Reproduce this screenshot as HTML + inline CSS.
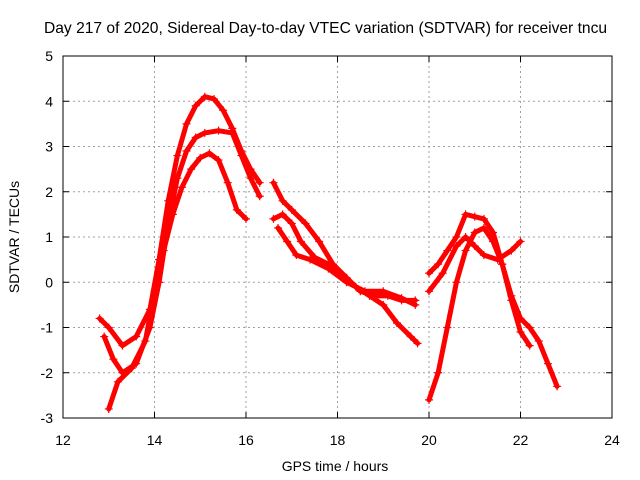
<!DOCTYPE html>
<html><head><meta charset="utf-8"><style>
body{margin:0;background:#fff}
svg{display:block;font-family:"Liberation Sans",sans-serif}
</style></head><body>
<svg id="chart" width="640" height="480" viewBox="0 0 640 480">
<text x="44" y="33" text-anchor="start" font-size="15.6">Day 217 of 2020, Sidereal Day-to-day VTEC variation (SDTVAR) for receiver tncu</text>
<g id="grid"></g>
<g id="series"></g>
<rect x="63" y="56" width="549" height="362" fill="none" stroke="#000" stroke-width="1"/>
<g id="ticks"></g>
<text x="335" y="471" text-anchor="middle" font-size="14">GPS time / hours</text>
<text transform="translate(19,237) rotate(-90)" text-anchor="middle" font-size="14">SDTVAR / TECUs</text>
</svg>
<script>
const xTicks=[12,14,16,18,20,22,24];
const yTicks=[-3,-2,-1,0,1,2,3,4,5];
const trackA_x=[12.8,13.0,13.3,13.6,13.9,14.1,14.3,14.5,14.7,14.9,15.1,15.3,15.5,15.7,15.9,16.1,16.3];
const trackA_y=[-0.8,-1.0,-1.4,-1.2,-0.6,0.5,1.8,2.8,3.5,3.9,4.1,4.05,3.8,3.4,2.9,2.5,2.2];
const trackB_x=[12.9,13.1,13.3,13.6,13.9,14.1,14.3,14.5,14.7,14.9,15.1,15.4,15.7,15.9,16.1,16.3];
const trackB_y=[-1.2,-1.7,-2.0,-1.8,-1.0,0.0,1.3,2.3,2.9,3.2,3.3,3.35,3.3,2.8,2.3,1.9];
const trackC_x=[13.0,13.2,13.5,13.8,14.0,14.2,14.4,14.6,14.8,15.0,15.2,15.4,15.6,15.8,16.0];
const trackC_y=[-2.8,-2.2,-1.9,-1.3,-0.2,0.7,1.5,2.1,2.5,2.75,2.85,2.7,2.2,1.6,1.4];
const trackD_x=[16.6,16.8,17.0,17.3,17.6,17.9,18.2,18.5,18.8,19.1,19.4,19.7];
const trackD_y=[2.2,1.8,1.6,1.3,0.9,0.4,0.1,-0.2,-0.3,-0.3,-0.4,-0.4];
const trackE_x=[16.6,16.8,17.0,17.2,17.5,17.8,18.1,18.4,18.7,19.0,19.3,19.6,19.75];
const trackE_y=[1.4,1.5,1.3,0.9,0.55,0.4,0.1,-0.1,-0.3,-0.5,-0.9,-1.2,-1.35];
const trackF_x=[16.7,16.9,17.1,17.4,17.8,18.2,18.6,19.0,19.4,19.7];
const trackF_y=[1.2,0.9,0.6,0.5,0.3,0.0,-0.2,-0.2,-0.35,-0.5];
const trackG_x=[20.0,20.2,20.4,20.6,20.8,21.0,21.2,21.4,21.6,21.8,22.0,22.2,22.4,22.6,22.8];
const trackG_y=[-2.6,-2.0,-1.0,0.0,0.7,1.1,1.2,0.9,0.4,-0.3,-0.8,-1.0,-1.3,-1.8,-2.3];
const trackH_x=[20.0,20.2,20.4,20.6,20.8,21.0,21.2,21.4,21.6,21.8,22.0,22.2];
const trackH_y=[0.2,0.4,0.7,1.0,1.5,1.45,1.4,1.1,0.4,-0.4,-1.1,-1.4];
const trackI_x=[20.0,20.3,20.6,20.8,21.0,21.2,21.5,21.8,22.0];
const trackI_y=[-0.2,0.2,0.8,1.0,0.8,0.6,0.5,0.7,0.9];
const tracks=[[trackA_x,trackA_y],[trackB_x,trackB_y],[trackC_x,trackC_y],[trackD_x,trackD_y],[trackE_x,trackE_y],[trackF_x,trackF_y],[trackG_x,trackG_y],[trackH_x,trackH_y],[trackI_x,trackI_y]];
const NS="http://www.w3.org/2000/svg";
const X0=63,X1=612,Y0=418,Y1=56;
function sx(v){return X0+(v-12)/(24-12)*(X1-X0);}
function sy(v){return Y0-(v+3)/(5+3)*(Y0-Y1);}
function mk(t,a,p){const e=document.createElementNS(NS,t);for(const k in a)e.setAttribute(k,a[k]);p.appendChild(e);return e;}
const grid=document.getElementById('grid'),ticks=document.getElementById('ticks'),ser=document.getElementById('series');
xTicks.forEach(v=>{const x=sx(v);
 if(v>12&&v<24){const l=mk('line',{x1:x,x2:x,y1:Y1,y2:Y0,stroke:'#a0a0a0','stroke-dasharray':'2,3'},grid);
 
 }
 const t=mk('line',{x1:x,x2:x,y1:Y0,y2:Y0-6,stroke:'#000'},ticks);
 
 
 const t2=mk('line',{x1:x,x2:x,y1:Y1,y2:Y1+6,stroke:'#000'},ticks);
 
 
 const tx=mk('text',{x:x,y:445,'text-anchor':'middle','font-size':14},ticks);tx.textContent=v;
 
 
});
yTicks.forEach(v=>{const y=sy(v);
 if(v>-3&&v<5){const l=mk('line',{x1:X0,x2:X1,y1:y,y2:y,stroke:'#a0a0a0','stroke-dasharray':'2,3'},grid);
 
 }
 const t=mk('line',{x1:X0,x2:X0+6,y1:y,y2:y,stroke:'#000'},ticks);
 
 
 const t2=mk('line',{x1:X1,x2:X1-6,y1:y,y2:y,stroke:'#000'},ticks);
 
 
 const tx=mk('text',{x:53,y:y+5,'text-anchor':'end','font-size':14},ticks);tx.textContent=v;
 
 
});
tracks.forEach(([xs,ys],i)=>{
 const pts=xs.map((v,j)=>sx(v)+','+sy(ys[j])).join(' ');
 const pl=mk('polyline',{points:pts,fill:'none',stroke:'#ff0000','stroke-width':5,'stroke-linejoin':'round','stroke-linecap':'round'},ser);
 
 
 xs.forEach((v,j)=>{const x=sx(v),y=sy(ys[j]);
  const p=mk('path',{d:`M${x-4},${y}H${x+4}M${x},${y-4}V${y+4}`,stroke:'#ff0000','stroke-width':1.2},ser);
  
  
 });
});
</script>
</body></html>
